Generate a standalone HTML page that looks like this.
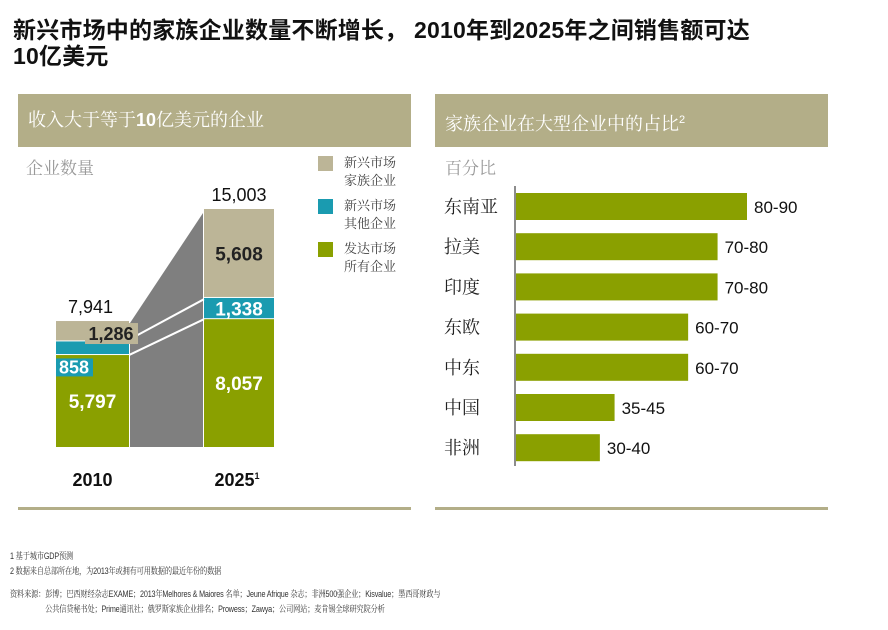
<!DOCTYPE html>
<html><head><meta charset="utf-8"><style>
body{margin:0;width:888px;height:630px;background:#fff;font-family:"Liberation Sans","Noto Sans CJK SC",sans-serif;overflow:hidden;position:relative}
.abs{position:absolute}
.title{left:13px;top:17px;font-size:23px;font-weight:bold;color:#111;line-height:26px;letter-spacing:0.2px}
.band{background:#b3ae88;color:#fff;font-family:"Liberation Sans","Noto Serif CJK SC",serif;font-size:18px}
.rule{height:3px;background:#b3ae88}
.note{font-family:"Liberation Sans","Noto Serif CJK SC",serif;font-size:9px;color:#333;line-height:15px;letter-spacing:-0.2px;transform:scaleX(0.8);transform-origin:left top;white-space:nowrap}
</style></head><body>
<div class="abs title">新兴市场中的家族企业数量不断增长， 2010年到2025年之间销售额可达<br>10亿美元</div>

<div class="abs band" style="left:18px;top:94px;width:393px;height:53px;line-height:53px;padding-left:10px;box-sizing:border-box">收入大于等于<b style="font-family:'Liberation Sans'">10</b>亿美元的企业</div>
<div class="abs band" style="left:435px;top:94px;width:393px;height:53px;line-height:53px;padding-left:10px;box-sizing:border-box">家族企业在大型企业中的占比<sup style="font-size:11px">2</sup></div>
<div class="abs rule" style="left:18px;top:507px;width:393px"></div>
<div class="abs rule" style="left:435px;top:507px;width:393px"></div>

<svg class="abs" style="left:0;top:0" width="888" height="630" id="svg">
<text x="26" y="174" font-size="17" fill="#999" font-family="Liberation Sans,Noto Serif CJK SC,serif">企业数量</text>
<text x="445" y="174" font-size="17" fill="#999" font-family="Liberation Sans,Noto Serif CJK SC,serif">百分比</text>
<g id="left"></g><g id="right"></g>
<g font-family="Liberation Sans,Noto Serif CJK SC,serif" font-size="13" fill="#444">
<rect x="318" y="156" width="15" height="15" fill="#bcb597"/>
<text x="344" y="167">新兴市场</text><text x="344" y="185">家族企业</text>
<rect x="318" y="199" width="15" height="15" fill="#1a9bb0"/>
<text x="344" y="210">新兴市场</text><text x="344" y="228">其他企业</text>
<rect x="318" y="242" width="15" height="15" fill="#8aa000"/>
<text x="344" y="253">发达市场</text><text x="344" y="271">所有企业</text>
</g>
</svg>

<div class="abs note" style="left:10px;top:549px">1 基于城市GDP预测<br>2 数据来自总部所在地，为2013年或拥有可用数据的最近年份的数据</div>
<div class="abs note" style="left:10px;top:587px">资料来源：彭博；巴西财经杂志EXAME；2013年Melhores &amp; Maiores 名单；Jeune Afrique 杂志；非洲500强企业；Kisvalue；墨西哥财政与<br><span style="padding-left:44px">公共信贷秘书处；Prime通讯社；俄罗斯家族企业排名；Prowess；Zawya；公司网站；麦肯锡全球研究院分析</span></div>

<script>
const years=["2010","2025"];
const developed=[5797,8057];
const emergingOther=[858,1338];
const emergingFamily=[1286,5608];
const totals=[7941,15003];
const regions=["东南亚","拉美","印度","东欧","中东","中国","非洲"];
const shareLow=[80,70,70,60,60,35,30];
const shareHigh=[90,80,80,70,70,45,40];

const NS="http://www.w3.org/2000/svg";
function mk(parent,tag,attrs,text){const e=document.createElementNS(NS,tag);for(const k in attrs)e.setAttribute(k,attrs[k]);if(text!==undefined)e.textContent=text;parent.appendChild(e);return e;}
function fmt(v){return v.toLocaleString("en-US");}

const L=document.getElementById("left");
const base=447, k=238/15003;
const y=v=>base-v*k;
const barX=[56,204], barW=[73,70];
const tops=[];
for(let i=0;i<2;i++){
  const g=developed[i],t=g+emergingOther[i],f=t+emergingFamily[i];
  tops.push({g:y(g),t:y(t),f:y(f)});
}
let poly=mk(L,"polygon",{points:`${barX[0]+barW[0]+1},${base} ${barX[0]+barW[0]+1},${tops[0].f+2} ${barX[1]-1},${tops[1].f+4} ${barX[1]-1},${base}`,fill:"#7f7f7f"});


for(let i=0;i<2;i++){
  const x=barX[i],w=barW[i],tp=tops[i];
  let r=mk(L,"rect",{x,y:tp.g,width:w,height:base-tp.g,fill:"#8aa000"});
  
  
  r=mk(L,"rect",{x,y:tp.t,width:w,height:tp.g-tp.t-1,fill:"#1a9bb0"});
  
  
  r=mk(L,"rect",{x,y:tp.f,width:w,height:tp.t-tp.f-1,fill:"#bcb597"});
  
  
}
mk(L,"line",{x1:barX[0]+barW[0]+8,y1:tops[0].t-6,x2:barX[1],y2:tops[1].g-20,stroke:"#fff","stroke-width":2});
mk(L,"line",{x1:barX[0]+barW[0],y1:tops[0].g,x2:barX[1],y2:tops[1].g,stroke:"#fff","stroke-width":2});
const lab=(x,yy,t,fill,name,fs)=>{const e=mk(L,"text",{x,y:yy,"text-anchor":"middle","font-size":fs||19,"font-weight":"bold",fill,"font-family":"Liberation Sans,sans-serif"},t);return e;};
lab(barX[0]+barW[0]/2,(base+tops[0].g)/2+7,fmt(developed[0]),"#fff","value-developed-2010");
mk(L,"rect",{x:85,y:tops[0].f+2,width:53,height:21,fill:"#bcb597"});
lab(111,tops[0].f+19,fmt(emergingFamily[0]),"#222","value-emerging-family-2010",18);
mk(L,"rect",{x:56,y:tops[0].t+17,width:37,height:18,fill:"#1a9bb0"});
lab(74,tops[0].t+32,fmt(emergingOther[0]),"#fff","value-emerging-other-2010",18);
lab(barX[0]+barW[0]/2-2,tops[0].f-8,fmt(totals[0]),"#111","total-2010",18).setAttribute("font-weight","normal");
const c1=barX[1]+barW[1]/2;
lab(c1,(base+tops[1].g)/2+7,fmt(developed[1]),"#fff","value-developed-2025");
lab(c1,(tops[1].g+tops[1].t)/2+7,fmt(emergingOther[1]),"#fff","value-emerging-other-2025");
lab(c1,(tops[1].t+tops[1].f)/2+7,fmt(emergingFamily[1]),"#222","value-emerging-family-2025");
lab(c1,tops[1].f-8,fmt(totals[1]),"#111","total-2025",18).setAttribute("font-weight","normal");
lab(barX[0]+barW[0]/2,486,years[0],"#111","x-label-2010",18);
const t25=lab(c1-2,486,years[1],"#111","x-label-2025",18);
mk(t25,"tspan",{"font-size":9,dy:-7},"1");

const R=document.getElementById("right");
const x0=516, xd0=6.5, xd1=85, xr1=747;
const xs=v=>x0+(v-xd0)/(xd1-xd0)*(xr1-x0);
const rowY=i=>193+i*40.2;
let ax=mk(R,"line",{x1:515,y1:186,x2:515,y2:466,stroke:"#666","stroke-width":1.5});


regions.forEach((r,i)=>{
  const mid=(shareLow[i]+shareHigh[i])/2, yy=rowY(i), xe=xs(mid);
  const b=mk(R,"rect",{x:516,y:yy,width:xe-516,height:27,fill:"#8aa000"});
  
  
  const c=mk(R,"text",{x:444,y:yy+20,"font-size":18,fill:"#222","font-family":"Liberation Sans,Noto Serif CJK SC,serif"},r);
  
  
  const v=mk(R,"text",{x:xe+7,y:yy+20,"font-size":17,fill:"#111","font-family":"Liberation Sans,sans-serif"},shareLow[i]+"-"+shareHigh[i]);
  
  
});
</script>
</body></html>
